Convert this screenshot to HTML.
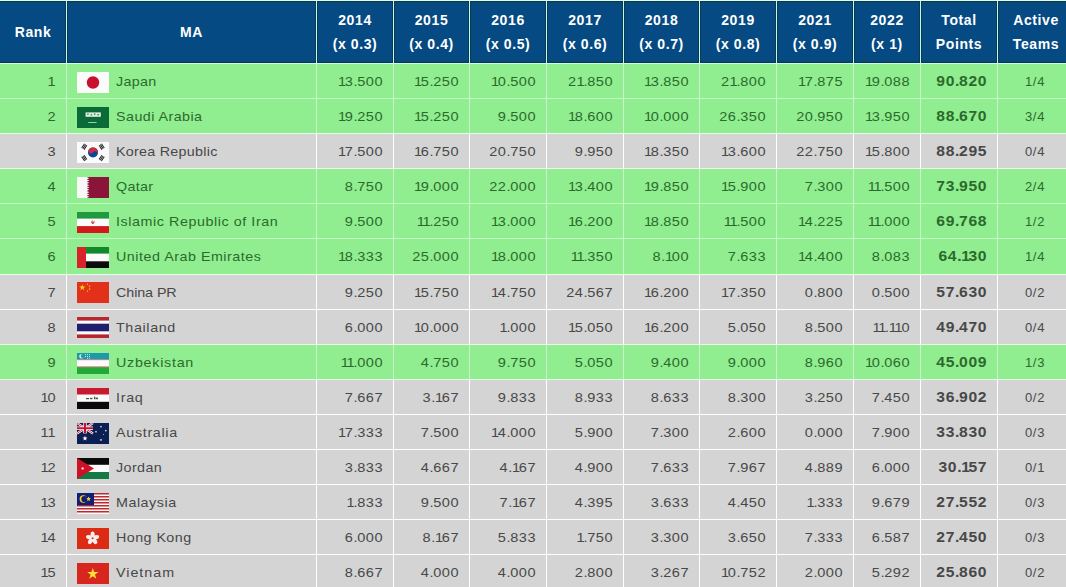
<!DOCTYPE html><html><head><meta charset="utf-8"><style>
*{margin:0;padding:0;box-sizing:border-box}
html,body{width:1066px;height:587px;overflow:hidden;background:#fff}
body{position:relative;font-family:"Liberation Sans",sans-serif;}
div{position:absolute}
.hc{background:#054a82;box-shadow:inset 0 1px 0 #0a3a4c, inset 0 -1px 0 #093947, inset 0 2px 0 #0c4866, inset 0 -2px 0 #0b4868}
.t{white-space:nowrap;font-size:13px;line-height:14px;letter-spacing:0.7px}
.h{color:#fff;font-weight:bold;font-size:14px;text-align:center;white-space:nowrap;letter-spacing:0.6px}
.r{text-align:right}
.n{letter-spacing:0.45px;transform:scaleX(1.12);transform-origin:100% 50%}
.nm{transform:scaleX(1.1);transform-origin:0 50%}
.n i{font-style:normal}
.n i.o{letter-spacing:-1.15px}
.n i.p{letter-spacing:-0.25px}
.b{font-weight:bold;font-size:14.5px;letter-spacing:0.55px;transform:translateY(-1px) scaleX(1.08)}
.b i.o{letter-spacing:-1.5px}
.b i.p{letter-spacing:-0.2px}
.fl{width:32px;height:21px}
.fl svg{display:block}
</style></head><body>
<div style="left:0;top:0;width:1066px;height:1px;background:#d8fffb"></div>
<div class="hc" style="left:0px;top:1px;width:66px;height:62px;border-right:1px solid #0a3c50"></div>
<div class="hc" style="left:67px;top:1px;width:249px;height:62px;border-left:1px solid #0a3c50;border-right:1px solid #0a3c50"></div>
<div class="hc" style="left:317px;top:1px;width:76px;height:62px;border-left:1px solid #0a3c50;border-right:1px solid #0a3c50"></div>
<div class="hc" style="left:394px;top:1px;width:75px;height:62px;border-left:1px solid #0a3c50;border-right:1px solid #0a3c50"></div>
<div class="hc" style="left:470px;top:1px;width:76px;height:62px;border-left:1px solid #0a3c50;border-right:1px solid #0a3c50"></div>
<div class="hc" style="left:547px;top:1px;width:76px;height:62px;border-left:1px solid #0a3c50;border-right:1px solid #0a3c50"></div>
<div class="hc" style="left:624px;top:1px;width:75px;height:62px;border-left:1px solid #0a3c50;border-right:1px solid #0a3c50"></div>
<div class="hc" style="left:700px;top:1px;width:76px;height:62px;border-left:1px solid #0a3c50;border-right:1px solid #0a3c50"></div>
<div class="hc" style="left:777px;top:1px;width:76px;height:62px;border-left:1px solid #0a3c50;border-right:1px solid #0a3c50"></div>
<div class="hc" style="left:854px;top:1px;width:66px;height:62px;border-left:1px solid #0a3c50;border-right:1px solid #0a3c50"></div>
<div class="hc" style="left:921px;top:1px;width:76px;height:62px;border-left:1px solid #0a3c50;border-right:1px solid #0a3c50"></div>
<div class="hc" style="left:998px;top:1px;width:76px;height:62px;border-left:1px solid #0a3c50;border-right:1px solid #0a3c50"></div>
<div style="left:66px;top:1px;width:1px;height:62px;background:#c4f6f2"></div>
<div style="left:316px;top:1px;width:1px;height:62px;background:#c4f6f2"></div>
<div style="left:393px;top:1px;width:1px;height:62px;background:#c4f6f2"></div>
<div style="left:469px;top:1px;width:1px;height:62px;background:#c4f6f2"></div>
<div style="left:546px;top:1px;width:1px;height:62px;background:#c4f6f2"></div>
<div style="left:623px;top:1px;width:1px;height:62px;background:#c4f6f2"></div>
<div style="left:699px;top:1px;width:1px;height:62px;background:#c4f6f2"></div>
<div style="left:776px;top:1px;width:1px;height:62px;background:#c4f6f2"></div>
<div style="left:853px;top:1px;width:1px;height:62px;background:#c4f6f2"></div>
<div style="left:920px;top:1px;width:1px;height:62px;background:#c4f6f2"></div>
<div style="left:997px;top:1px;width:1px;height:62px;background:#c4f6f2"></div>
<div style="left:0;top:63px;width:1066px;height:1px;background:#c6fff2"></div>
<div style="left:0;top:64px;width:1066px;height:34px;background:#90ee90"></div>
<div style="left:65px;top:64px;width:3px;height:34px;background:#9ae69a"></div>
<div style="left:66px;top:64px;width:1px;height:34px;background:#bcfcbc"></div>
<div style="left:315px;top:64px;width:3px;height:34px;background:#9ae69a"></div>
<div style="left:316px;top:64px;width:1px;height:34px;background:#bcfcbc"></div>
<div style="left:392px;top:64px;width:3px;height:34px;background:#9ae69a"></div>
<div style="left:393px;top:64px;width:1px;height:34px;background:#bcfcbc"></div>
<div style="left:468px;top:64px;width:3px;height:34px;background:#9ae69a"></div>
<div style="left:469px;top:64px;width:1px;height:34px;background:#bcfcbc"></div>
<div style="left:545px;top:64px;width:3px;height:34px;background:#9ae69a"></div>
<div style="left:546px;top:64px;width:1px;height:34px;background:#bcfcbc"></div>
<div style="left:622px;top:64px;width:3px;height:34px;background:#9ae69a"></div>
<div style="left:623px;top:64px;width:1px;height:34px;background:#bcfcbc"></div>
<div style="left:698px;top:64px;width:3px;height:34px;background:#9ae69a"></div>
<div style="left:699px;top:64px;width:1px;height:34px;background:#bcfcbc"></div>
<div style="left:775px;top:64px;width:3px;height:34px;background:#9ae69a"></div>
<div style="left:776px;top:64px;width:1px;height:34px;background:#bcfcbc"></div>
<div style="left:852px;top:64px;width:3px;height:34px;background:#9ae69a"></div>
<div style="left:853px;top:64px;width:1px;height:34px;background:#bcfcbc"></div>
<div style="left:919px;top:64px;width:3px;height:34px;background:#9ae69a"></div>
<div style="left:920px;top:64px;width:1px;height:34px;background:#bcfcbc"></div>
<div style="left:996px;top:64px;width:3px;height:34px;background:#9ae69a"></div>
<div style="left:997px;top:64px;width:1px;height:34px;background:#bcfcbc"></div>
<div style="left:0;top:99px;width:1066px;height:34px;background:#90ee90"></div>
<div style="left:65px;top:99px;width:3px;height:34px;background:#9ae69a"></div>
<div style="left:66px;top:99px;width:1px;height:34px;background:#bcfcbc"></div>
<div style="left:315px;top:99px;width:3px;height:34px;background:#9ae69a"></div>
<div style="left:316px;top:99px;width:1px;height:34px;background:#bcfcbc"></div>
<div style="left:392px;top:99px;width:3px;height:34px;background:#9ae69a"></div>
<div style="left:393px;top:99px;width:1px;height:34px;background:#bcfcbc"></div>
<div style="left:468px;top:99px;width:3px;height:34px;background:#9ae69a"></div>
<div style="left:469px;top:99px;width:1px;height:34px;background:#bcfcbc"></div>
<div style="left:545px;top:99px;width:3px;height:34px;background:#9ae69a"></div>
<div style="left:546px;top:99px;width:1px;height:34px;background:#bcfcbc"></div>
<div style="left:622px;top:99px;width:3px;height:34px;background:#9ae69a"></div>
<div style="left:623px;top:99px;width:1px;height:34px;background:#bcfcbc"></div>
<div style="left:698px;top:99px;width:3px;height:34px;background:#9ae69a"></div>
<div style="left:699px;top:99px;width:1px;height:34px;background:#bcfcbc"></div>
<div style="left:775px;top:99px;width:3px;height:34px;background:#9ae69a"></div>
<div style="left:776px;top:99px;width:1px;height:34px;background:#bcfcbc"></div>
<div style="left:852px;top:99px;width:3px;height:34px;background:#9ae69a"></div>
<div style="left:853px;top:99px;width:1px;height:34px;background:#bcfcbc"></div>
<div style="left:919px;top:99px;width:3px;height:34px;background:#9ae69a"></div>
<div style="left:920px;top:99px;width:1px;height:34px;background:#bcfcbc"></div>
<div style="left:996px;top:99px;width:3px;height:34px;background:#9ae69a"></div>
<div style="left:997px;top:99px;width:1px;height:34px;background:#bcfcbc"></div>
<div style="left:0;top:134px;width:1066px;height:34px;background:#d4d4d4"></div>
<div style="left:66px;top:134px;width:1px;height:34px;background:#ffffff"></div>
<div style="left:316px;top:134px;width:1px;height:34px;background:#ffffff"></div>
<div style="left:393px;top:134px;width:1px;height:34px;background:#ffffff"></div>
<div style="left:469px;top:134px;width:1px;height:34px;background:#ffffff"></div>
<div style="left:546px;top:134px;width:1px;height:34px;background:#ffffff"></div>
<div style="left:623px;top:134px;width:1px;height:34px;background:#ffffff"></div>
<div style="left:699px;top:134px;width:1px;height:34px;background:#ffffff"></div>
<div style="left:776px;top:134px;width:1px;height:34px;background:#ffffff"></div>
<div style="left:853px;top:134px;width:1px;height:34px;background:#ffffff"></div>
<div style="left:920px;top:134px;width:1px;height:34px;background:#ffffff"></div>
<div style="left:997px;top:134px;width:1px;height:34px;background:#ffffff"></div>
<div style="left:0;top:169px;width:1066px;height:34px;background:#90ee90"></div>
<div style="left:65px;top:169px;width:3px;height:34px;background:#9ae69a"></div>
<div style="left:66px;top:169px;width:1px;height:34px;background:#bcfcbc"></div>
<div style="left:315px;top:169px;width:3px;height:34px;background:#9ae69a"></div>
<div style="left:316px;top:169px;width:1px;height:34px;background:#bcfcbc"></div>
<div style="left:392px;top:169px;width:3px;height:34px;background:#9ae69a"></div>
<div style="left:393px;top:169px;width:1px;height:34px;background:#bcfcbc"></div>
<div style="left:468px;top:169px;width:3px;height:34px;background:#9ae69a"></div>
<div style="left:469px;top:169px;width:1px;height:34px;background:#bcfcbc"></div>
<div style="left:545px;top:169px;width:3px;height:34px;background:#9ae69a"></div>
<div style="left:546px;top:169px;width:1px;height:34px;background:#bcfcbc"></div>
<div style="left:622px;top:169px;width:3px;height:34px;background:#9ae69a"></div>
<div style="left:623px;top:169px;width:1px;height:34px;background:#bcfcbc"></div>
<div style="left:698px;top:169px;width:3px;height:34px;background:#9ae69a"></div>
<div style="left:699px;top:169px;width:1px;height:34px;background:#bcfcbc"></div>
<div style="left:775px;top:169px;width:3px;height:34px;background:#9ae69a"></div>
<div style="left:776px;top:169px;width:1px;height:34px;background:#bcfcbc"></div>
<div style="left:852px;top:169px;width:3px;height:34px;background:#9ae69a"></div>
<div style="left:853px;top:169px;width:1px;height:34px;background:#bcfcbc"></div>
<div style="left:919px;top:169px;width:3px;height:34px;background:#9ae69a"></div>
<div style="left:920px;top:169px;width:1px;height:34px;background:#bcfcbc"></div>
<div style="left:996px;top:169px;width:3px;height:34px;background:#9ae69a"></div>
<div style="left:997px;top:169px;width:1px;height:34px;background:#bcfcbc"></div>
<div style="left:0;top:204px;width:1066px;height:34px;background:#90ee90"></div>
<div style="left:65px;top:204px;width:3px;height:34px;background:#9ae69a"></div>
<div style="left:66px;top:204px;width:1px;height:34px;background:#bcfcbc"></div>
<div style="left:315px;top:204px;width:3px;height:34px;background:#9ae69a"></div>
<div style="left:316px;top:204px;width:1px;height:34px;background:#bcfcbc"></div>
<div style="left:392px;top:204px;width:3px;height:34px;background:#9ae69a"></div>
<div style="left:393px;top:204px;width:1px;height:34px;background:#bcfcbc"></div>
<div style="left:468px;top:204px;width:3px;height:34px;background:#9ae69a"></div>
<div style="left:469px;top:204px;width:1px;height:34px;background:#bcfcbc"></div>
<div style="left:545px;top:204px;width:3px;height:34px;background:#9ae69a"></div>
<div style="left:546px;top:204px;width:1px;height:34px;background:#bcfcbc"></div>
<div style="left:622px;top:204px;width:3px;height:34px;background:#9ae69a"></div>
<div style="left:623px;top:204px;width:1px;height:34px;background:#bcfcbc"></div>
<div style="left:698px;top:204px;width:3px;height:34px;background:#9ae69a"></div>
<div style="left:699px;top:204px;width:1px;height:34px;background:#bcfcbc"></div>
<div style="left:775px;top:204px;width:3px;height:34px;background:#9ae69a"></div>
<div style="left:776px;top:204px;width:1px;height:34px;background:#bcfcbc"></div>
<div style="left:852px;top:204px;width:3px;height:34px;background:#9ae69a"></div>
<div style="left:853px;top:204px;width:1px;height:34px;background:#bcfcbc"></div>
<div style="left:919px;top:204px;width:3px;height:34px;background:#9ae69a"></div>
<div style="left:920px;top:204px;width:1px;height:34px;background:#bcfcbc"></div>
<div style="left:996px;top:204px;width:3px;height:34px;background:#9ae69a"></div>
<div style="left:997px;top:204px;width:1px;height:34px;background:#bcfcbc"></div>
<div style="left:0;top:239px;width:1066px;height:35px;background:#90ee90"></div>
<div style="left:65px;top:239px;width:3px;height:35px;background:#9ae69a"></div>
<div style="left:66px;top:239px;width:1px;height:35px;background:#bcfcbc"></div>
<div style="left:315px;top:239px;width:3px;height:35px;background:#9ae69a"></div>
<div style="left:316px;top:239px;width:1px;height:35px;background:#bcfcbc"></div>
<div style="left:392px;top:239px;width:3px;height:35px;background:#9ae69a"></div>
<div style="left:393px;top:239px;width:1px;height:35px;background:#bcfcbc"></div>
<div style="left:468px;top:239px;width:3px;height:35px;background:#9ae69a"></div>
<div style="left:469px;top:239px;width:1px;height:35px;background:#bcfcbc"></div>
<div style="left:545px;top:239px;width:3px;height:35px;background:#9ae69a"></div>
<div style="left:546px;top:239px;width:1px;height:35px;background:#bcfcbc"></div>
<div style="left:622px;top:239px;width:3px;height:35px;background:#9ae69a"></div>
<div style="left:623px;top:239px;width:1px;height:35px;background:#bcfcbc"></div>
<div style="left:698px;top:239px;width:3px;height:35px;background:#9ae69a"></div>
<div style="left:699px;top:239px;width:1px;height:35px;background:#bcfcbc"></div>
<div style="left:775px;top:239px;width:3px;height:35px;background:#9ae69a"></div>
<div style="left:776px;top:239px;width:1px;height:35px;background:#bcfcbc"></div>
<div style="left:852px;top:239px;width:3px;height:35px;background:#9ae69a"></div>
<div style="left:853px;top:239px;width:1px;height:35px;background:#bcfcbc"></div>
<div style="left:919px;top:239px;width:3px;height:35px;background:#9ae69a"></div>
<div style="left:920px;top:239px;width:1px;height:35px;background:#bcfcbc"></div>
<div style="left:996px;top:239px;width:3px;height:35px;background:#9ae69a"></div>
<div style="left:997px;top:239px;width:1px;height:35px;background:#bcfcbc"></div>
<div style="left:0;top:275px;width:1066px;height:34px;background:#d4d4d4"></div>
<div style="left:66px;top:275px;width:1px;height:34px;background:#ffffff"></div>
<div style="left:316px;top:275px;width:1px;height:34px;background:#ffffff"></div>
<div style="left:393px;top:275px;width:1px;height:34px;background:#ffffff"></div>
<div style="left:469px;top:275px;width:1px;height:34px;background:#ffffff"></div>
<div style="left:546px;top:275px;width:1px;height:34px;background:#ffffff"></div>
<div style="left:623px;top:275px;width:1px;height:34px;background:#ffffff"></div>
<div style="left:699px;top:275px;width:1px;height:34px;background:#ffffff"></div>
<div style="left:776px;top:275px;width:1px;height:34px;background:#ffffff"></div>
<div style="left:853px;top:275px;width:1px;height:34px;background:#ffffff"></div>
<div style="left:920px;top:275px;width:1px;height:34px;background:#ffffff"></div>
<div style="left:997px;top:275px;width:1px;height:34px;background:#ffffff"></div>
<div style="left:0;top:310px;width:1066px;height:34px;background:#d4d4d4"></div>
<div style="left:66px;top:310px;width:1px;height:34px;background:#ffffff"></div>
<div style="left:316px;top:310px;width:1px;height:34px;background:#ffffff"></div>
<div style="left:393px;top:310px;width:1px;height:34px;background:#ffffff"></div>
<div style="left:469px;top:310px;width:1px;height:34px;background:#ffffff"></div>
<div style="left:546px;top:310px;width:1px;height:34px;background:#ffffff"></div>
<div style="left:623px;top:310px;width:1px;height:34px;background:#ffffff"></div>
<div style="left:699px;top:310px;width:1px;height:34px;background:#ffffff"></div>
<div style="left:776px;top:310px;width:1px;height:34px;background:#ffffff"></div>
<div style="left:853px;top:310px;width:1px;height:34px;background:#ffffff"></div>
<div style="left:920px;top:310px;width:1px;height:34px;background:#ffffff"></div>
<div style="left:997px;top:310px;width:1px;height:34px;background:#ffffff"></div>
<div style="left:0;top:345px;width:1066px;height:34px;background:#90ee90"></div>
<div style="left:65px;top:345px;width:3px;height:34px;background:#9ae69a"></div>
<div style="left:66px;top:345px;width:1px;height:34px;background:#bcfcbc"></div>
<div style="left:315px;top:345px;width:3px;height:34px;background:#9ae69a"></div>
<div style="left:316px;top:345px;width:1px;height:34px;background:#bcfcbc"></div>
<div style="left:392px;top:345px;width:3px;height:34px;background:#9ae69a"></div>
<div style="left:393px;top:345px;width:1px;height:34px;background:#bcfcbc"></div>
<div style="left:468px;top:345px;width:3px;height:34px;background:#9ae69a"></div>
<div style="left:469px;top:345px;width:1px;height:34px;background:#bcfcbc"></div>
<div style="left:545px;top:345px;width:3px;height:34px;background:#9ae69a"></div>
<div style="left:546px;top:345px;width:1px;height:34px;background:#bcfcbc"></div>
<div style="left:622px;top:345px;width:3px;height:34px;background:#9ae69a"></div>
<div style="left:623px;top:345px;width:1px;height:34px;background:#bcfcbc"></div>
<div style="left:698px;top:345px;width:3px;height:34px;background:#9ae69a"></div>
<div style="left:699px;top:345px;width:1px;height:34px;background:#bcfcbc"></div>
<div style="left:775px;top:345px;width:3px;height:34px;background:#9ae69a"></div>
<div style="left:776px;top:345px;width:1px;height:34px;background:#bcfcbc"></div>
<div style="left:852px;top:345px;width:3px;height:34px;background:#9ae69a"></div>
<div style="left:853px;top:345px;width:1px;height:34px;background:#bcfcbc"></div>
<div style="left:919px;top:345px;width:3px;height:34px;background:#9ae69a"></div>
<div style="left:920px;top:345px;width:1px;height:34px;background:#bcfcbc"></div>
<div style="left:996px;top:345px;width:3px;height:34px;background:#9ae69a"></div>
<div style="left:997px;top:345px;width:1px;height:34px;background:#bcfcbc"></div>
<div style="left:0;top:380px;width:1066px;height:34px;background:#d4d4d4"></div>
<div style="left:66px;top:380px;width:1px;height:34px;background:#ffffff"></div>
<div style="left:316px;top:380px;width:1px;height:34px;background:#ffffff"></div>
<div style="left:393px;top:380px;width:1px;height:34px;background:#ffffff"></div>
<div style="left:469px;top:380px;width:1px;height:34px;background:#ffffff"></div>
<div style="left:546px;top:380px;width:1px;height:34px;background:#ffffff"></div>
<div style="left:623px;top:380px;width:1px;height:34px;background:#ffffff"></div>
<div style="left:699px;top:380px;width:1px;height:34px;background:#ffffff"></div>
<div style="left:776px;top:380px;width:1px;height:34px;background:#ffffff"></div>
<div style="left:853px;top:380px;width:1px;height:34px;background:#ffffff"></div>
<div style="left:920px;top:380px;width:1px;height:34px;background:#ffffff"></div>
<div style="left:997px;top:380px;width:1px;height:34px;background:#ffffff"></div>
<div style="left:0;top:415px;width:1066px;height:34px;background:#d4d4d4"></div>
<div style="left:66px;top:415px;width:1px;height:34px;background:#ffffff"></div>
<div style="left:316px;top:415px;width:1px;height:34px;background:#ffffff"></div>
<div style="left:393px;top:415px;width:1px;height:34px;background:#ffffff"></div>
<div style="left:469px;top:415px;width:1px;height:34px;background:#ffffff"></div>
<div style="left:546px;top:415px;width:1px;height:34px;background:#ffffff"></div>
<div style="left:623px;top:415px;width:1px;height:34px;background:#ffffff"></div>
<div style="left:699px;top:415px;width:1px;height:34px;background:#ffffff"></div>
<div style="left:776px;top:415px;width:1px;height:34px;background:#ffffff"></div>
<div style="left:853px;top:415px;width:1px;height:34px;background:#ffffff"></div>
<div style="left:920px;top:415px;width:1px;height:34px;background:#ffffff"></div>
<div style="left:997px;top:415px;width:1px;height:34px;background:#ffffff"></div>
<div style="left:0;top:450px;width:1066px;height:34px;background:#d4d4d4"></div>
<div style="left:66px;top:450px;width:1px;height:34px;background:#ffffff"></div>
<div style="left:316px;top:450px;width:1px;height:34px;background:#ffffff"></div>
<div style="left:393px;top:450px;width:1px;height:34px;background:#ffffff"></div>
<div style="left:469px;top:450px;width:1px;height:34px;background:#ffffff"></div>
<div style="left:546px;top:450px;width:1px;height:34px;background:#ffffff"></div>
<div style="left:623px;top:450px;width:1px;height:34px;background:#ffffff"></div>
<div style="left:699px;top:450px;width:1px;height:34px;background:#ffffff"></div>
<div style="left:776px;top:450px;width:1px;height:34px;background:#ffffff"></div>
<div style="left:853px;top:450px;width:1px;height:34px;background:#ffffff"></div>
<div style="left:920px;top:450px;width:1px;height:34px;background:#ffffff"></div>
<div style="left:997px;top:450px;width:1px;height:34px;background:#ffffff"></div>
<div style="left:0;top:485px;width:1066px;height:34px;background:#d4d4d4"></div>
<div style="left:66px;top:485px;width:1px;height:34px;background:#ffffff"></div>
<div style="left:316px;top:485px;width:1px;height:34px;background:#ffffff"></div>
<div style="left:393px;top:485px;width:1px;height:34px;background:#ffffff"></div>
<div style="left:469px;top:485px;width:1px;height:34px;background:#ffffff"></div>
<div style="left:546px;top:485px;width:1px;height:34px;background:#ffffff"></div>
<div style="left:623px;top:485px;width:1px;height:34px;background:#ffffff"></div>
<div style="left:699px;top:485px;width:1px;height:34px;background:#ffffff"></div>
<div style="left:776px;top:485px;width:1px;height:34px;background:#ffffff"></div>
<div style="left:853px;top:485px;width:1px;height:34px;background:#ffffff"></div>
<div style="left:920px;top:485px;width:1px;height:34px;background:#ffffff"></div>
<div style="left:997px;top:485px;width:1px;height:34px;background:#ffffff"></div>
<div style="left:0;top:520px;width:1066px;height:34px;background:#d4d4d4"></div>
<div style="left:66px;top:520px;width:1px;height:34px;background:#ffffff"></div>
<div style="left:316px;top:520px;width:1px;height:34px;background:#ffffff"></div>
<div style="left:393px;top:520px;width:1px;height:34px;background:#ffffff"></div>
<div style="left:469px;top:520px;width:1px;height:34px;background:#ffffff"></div>
<div style="left:546px;top:520px;width:1px;height:34px;background:#ffffff"></div>
<div style="left:623px;top:520px;width:1px;height:34px;background:#ffffff"></div>
<div style="left:699px;top:520px;width:1px;height:34px;background:#ffffff"></div>
<div style="left:776px;top:520px;width:1px;height:34px;background:#ffffff"></div>
<div style="left:853px;top:520px;width:1px;height:34px;background:#ffffff"></div>
<div style="left:920px;top:520px;width:1px;height:34px;background:#ffffff"></div>
<div style="left:997px;top:520px;width:1px;height:34px;background:#ffffff"></div>
<div style="left:0;top:555px;width:1066px;height:32px;background:#d4d4d4"></div>
<div style="left:66px;top:555px;width:1px;height:32px;background:#ffffff"></div>
<div style="left:316px;top:555px;width:1px;height:32px;background:#ffffff"></div>
<div style="left:393px;top:555px;width:1px;height:32px;background:#ffffff"></div>
<div style="left:469px;top:555px;width:1px;height:32px;background:#ffffff"></div>
<div style="left:546px;top:555px;width:1px;height:32px;background:#ffffff"></div>
<div style="left:623px;top:555px;width:1px;height:32px;background:#ffffff"></div>
<div style="left:699px;top:555px;width:1px;height:32px;background:#ffffff"></div>
<div style="left:776px;top:555px;width:1px;height:32px;background:#ffffff"></div>
<div style="left:853px;top:555px;width:1px;height:32px;background:#ffffff"></div>
<div style="left:920px;top:555px;width:1px;height:32px;background:#ffffff"></div>
<div style="left:997px;top:555px;width:1px;height:32px;background:#ffffff"></div>
<div style="left:0;top:98px;width:1066px;height:1px;background:#c0fcc0"></div>
<div style="left:0;top:133px;width:1066px;height:1px;background:#e6ffe6"></div>
<div style="left:0;top:168px;width:1066px;height:1px;background:#e6ffe6"></div>
<div style="left:0;top:203px;width:1066px;height:1px;background:#c0fcc0"></div>
<div style="left:0;top:238px;width:1066px;height:1px;background:#c0fcc0"></div>
<div style="left:0;top:274px;width:1066px;height:1px;background:#e6ffe6"></div>
<div style="left:0;top:309px;width:1066px;height:1px;background:#ffffff"></div>
<div style="left:0;top:344px;width:1066px;height:1px;background:#e6ffe6"></div>
<div style="left:0;top:379px;width:1066px;height:1px;background:#e6ffe6"></div>
<div style="left:0;top:414px;width:1066px;height:1px;background:#ffffff"></div>
<div style="left:0;top:449px;width:1066px;height:1px;background:#ffffff"></div>
<div style="left:0;top:484px;width:1066px;height:1px;background:#ffffff"></div>
<div style="left:0;top:519px;width:1066px;height:1px;background:#ffffff"></div>
<div style="left:0;top:554px;width:1066px;height:1px;background:#ffffff"></div>
<div class="h" style="left:0px;top:24px;width:66px;line-height:16px">Rank</div>
<div class="h" style="left:67px;top:24px;width:249px;line-height:16px">MA</div>
<div class="h" style="left:317px;top:8px;width:76px;line-height:24px">2014<br>(x 0.3)</div>
<div class="h" style="left:394px;top:8px;width:75px;line-height:24px">2015<br>(x 0.4)</div>
<div class="h" style="left:470px;top:8px;width:76px;line-height:24px">2016<br>(x 0.5)</div>
<div class="h" style="left:547px;top:8px;width:76px;line-height:24px">2017<br>(x 0.6)</div>
<div class="h" style="left:624px;top:8px;width:75px;line-height:24px">2018<br>(x 0.7)</div>
<div class="h" style="left:700px;top:8px;width:76px;line-height:24px">2019<br>(x 0.8)</div>
<div class="h" style="left:777px;top:8px;width:76px;line-height:24px">2021<br>(x 0.9)</div>
<div class="h" style="left:854px;top:8px;width:66px;line-height:24px">2022<br>(x 1)</div>
<div class="h" style="left:921px;top:8px;width:76px;line-height:24px">Total<br>Points</div>
<div class="h" style="left:998px;top:8px;width:76px;line-height:24px">Active<br>Teams</div>
<div class="t r n" style="left:0;width:56px;top:75px;color:#2b6a2b">1</div>
<div class="fl" style="left:77px;top:72px"><svg width="32" height="21" viewBox="0 0 32 21"><rect width="32" height="21" fill="#fbfbfb"/><circle cx="16" cy="10.5" r="6.2" fill="#c8102e"/></svg></div>
<div class="t nm" style="left:116px;top:75px;color:#2b6a2b;letter-spacing:0.291px">Japan</div>
<div class="t r n" style="left:313px;width:70px;top:75px;color:#2b6a2b"><i class=o>1</i>3<i class=p>.</i>500</div>
<div class="t r n" style="left:389px;width:70px;top:75px;color:#2b6a2b"><i class=o>1</i>5<i class=p>.</i>250</div>
<div class="t r n" style="left:466px;width:70px;top:75px;color:#2b6a2b"><i class=o>1</i>0<i class=p>.</i>500</div>
<div class="t r n" style="left:543px;width:70px;top:75px;color:#2b6a2b">2<i class=o>1</i><i class=p>.</i>850</div>
<div class="t r n" style="left:619px;width:70px;top:75px;color:#2b6a2b"><i class=o>1</i>3<i class=p>.</i>850</div>
<div class="t r n" style="left:696px;width:70px;top:75px;color:#2b6a2b">2<i class=o>1</i><i class=p>.</i>800</div>
<div class="t r n" style="left:773px;width:70px;top:75px;color:#2b6a2b"><i class=o>1</i>7<i class=p>.</i>875</div>
<div class="t r n" style="left:840px;width:70px;top:75px;color:#2b6a2b"><i class=o>1</i>9<i class=p>.</i>088</div>
<div class="t r n b" style="left:917px;width:70px;top:75px;color:#2b6a2b">90<i class=p>.</i>820</div>
<div class="t" style="left:998px;width:74px;text-align:center;top:75px;color:#2b6a2b">1/4</div>
<div class="t r n" style="left:0;width:56px;top:110px;color:#2b6a2b">2</div>
<div class="fl" style="left:77px;top:107px"><svg width="32" height="21" viewBox="0 0 32 21"><rect width="32" height="21" fill="#0b6b38"/><rect x="8.6" y="5.4" width="15.2" height="4.4" fill="#e2f0e4"/><g fill="#2f7f4c"><rect x="10.3" y="6.4" width="1.2" height="1.6"/><rect x="13.6" y="7.2" width="1.6" height="1.2"/><rect x="17.2" y="6.2" width="1.1" height="1.8"/><rect x="20.3" y="7" width="1.5" height="1.3"/></g><rect x="11.2" y="15.1" width="8.4" height="0.8" fill="#c4e2cc"/></svg></div>
<div class="t nm" style="left:116px;top:110px;color:#2b6a2b;letter-spacing:0.409px">Saudi Arabia</div>
<div class="t r n" style="left:313px;width:70px;top:110px;color:#2b6a2b"><i class=o>1</i>9<i class=p>.</i>250</div>
<div class="t r n" style="left:389px;width:70px;top:110px;color:#2b6a2b"><i class=o>1</i>5<i class=p>.</i>250</div>
<div class="t r n" style="left:466px;width:70px;top:110px;color:#2b6a2b">9<i class=p>.</i>500</div>
<div class="t r n" style="left:543px;width:70px;top:110px;color:#2b6a2b"><i class=o>1</i>8<i class=p>.</i>600</div>
<div class="t r n" style="left:619px;width:70px;top:110px;color:#2b6a2b"><i class=o>1</i>0<i class=p>.</i>000</div>
<div class="t r n" style="left:696px;width:70px;top:110px;color:#2b6a2b">26<i class=p>.</i>350</div>
<div class="t r n" style="left:773px;width:70px;top:110px;color:#2b6a2b">20<i class=p>.</i>950</div>
<div class="t r n" style="left:840px;width:70px;top:110px;color:#2b6a2b"><i class=o>1</i>3<i class=p>.</i>950</div>
<div class="t r n b" style="left:917px;width:70px;top:110px;color:#2b6a2b">88<i class=p>.</i>670</div>
<div class="t" style="left:998px;width:74px;text-align:center;top:110px;color:#2b6a2b">3/4</div>
<div class="t r n" style="left:0;width:56px;top:145px;color:#484848">3</div>
<div class="fl" style="left:77px;top:142px"><svg width="32" height="21" viewBox="0 0 32 21"><rect width="32" height="21" fill="#fbfbfb"/><circle cx="16" cy="10.4" r="5.0" fill="#0047a0"/><path d="M11.84 7.63 A5.0 5.0 0 0 1 20.16 13.17 A2.5 2.5 0 0 0 16 10.4 A2.5 2.5 0 0 1 11.84 7.63 Z" fill="#cd2e3a"/><g transform="translate(7.3 4.7) rotate(-56.3)" fill="#1a1a1a"><rect x="-2.6" y="-1.90" width="5.2" height="0.95"/><rect x="-2.6" y="-0.50" width="5.2" height="0.95"/><rect x="-2.6" y="0.90" width="5.2" height="0.95"/></g><g transform="translate(24.7 4.7) rotate(56.3)" fill="#1a1a1a"><rect x="-2.6" y="-1.90" width="5.2" height="0.95"/><rect x="-2.6" y="-0.50" width="5.2" height="0.95"/><rect x="-2.6" y="0.90" width="5.2" height="0.95"/></g><g transform="translate(7.3 16.1) rotate(56.3)" fill="#1a1a1a"><rect x="-2.6" y="-1.90" width="5.2" height="0.95"/><rect x="-2.6" y="-0.50" width="5.2" height="0.95"/><rect x="-2.6" y="0.90" width="5.2" height="0.95"/></g><g transform="translate(24.7 16.1) rotate(-56.3)" fill="#1a1a1a"><rect x="-2.6" y="-1.90" width="5.2" height="0.95"/><rect x="-2.6" y="-0.50" width="5.2" height="0.95"/><rect x="-2.6" y="0.90" width="5.2" height="0.95"/></g></svg></div>
<div class="t nm" style="left:116px;top:145px;color:#484848;letter-spacing:0.247px">Korea Republic</div>
<div class="t r n" style="left:313px;width:70px;top:145px;color:#484848"><i class=o>1</i>7<i class=p>.</i>500</div>
<div class="t r n" style="left:389px;width:70px;top:145px;color:#484848"><i class=o>1</i>6<i class=p>.</i>750</div>
<div class="t r n" style="left:466px;width:70px;top:145px;color:#484848">20<i class=p>.</i>750</div>
<div class="t r n" style="left:543px;width:70px;top:145px;color:#484848">9<i class=p>.</i>950</div>
<div class="t r n" style="left:619px;width:70px;top:145px;color:#484848"><i class=o>1</i>8<i class=p>.</i>350</div>
<div class="t r n" style="left:696px;width:70px;top:145px;color:#484848"><i class=o>1</i>3<i class=p>.</i>600</div>
<div class="t r n" style="left:773px;width:70px;top:145px;color:#484848">22<i class=p>.</i>750</div>
<div class="t r n" style="left:840px;width:70px;top:145px;color:#484848"><i class=o>1</i>5<i class=p>.</i>800</div>
<div class="t r n b" style="left:917px;width:70px;top:145px;color:#484848">88<i class=p>.</i>295</div>
<div class="t" style="left:998px;width:74px;text-align:center;top:145px;color:#484848">0/4</div>
<div class="t r n" style="left:0;width:56px;top:180px;color:#2b6a2b">4</div>
<div class="fl" style="left:77px;top:177px"><svg width="32" height="21" viewBox="0 0 32 21"><rect width="32" height="21" fill="#f8f8f8"/><polygon points="9.7,0 32,0 32,21 9.7,21.00 12.4,19.83 9.7,18.67 12.4,17.50 9.7,16.33 12.4,15.17 9.7,14.00 12.4,12.83 9.7,11.67 12.4,10.50 9.7,9.33 12.4,8.17 9.7,7.00 12.4,5.83 9.7,4.67 12.4,3.50 9.7,2.33 12.4,1.17" fill="#8a1538"/></svg></div>
<div class="t nm" style="left:116px;top:180px;color:#2b6a2b;letter-spacing:0.291px">Qatar</div>
<div class="t r n" style="left:313px;width:70px;top:180px;color:#2b6a2b">8<i class=p>.</i>750</div>
<div class="t r n" style="left:389px;width:70px;top:180px;color:#2b6a2b"><i class=o>1</i>9<i class=p>.</i>000</div>
<div class="t r n" style="left:466px;width:70px;top:180px;color:#2b6a2b">22<i class=p>.</i>000</div>
<div class="t r n" style="left:543px;width:70px;top:180px;color:#2b6a2b"><i class=o>1</i>3<i class=p>.</i>400</div>
<div class="t r n" style="left:619px;width:70px;top:180px;color:#2b6a2b"><i class=o>1</i>9<i class=p>.</i>850</div>
<div class="t r n" style="left:696px;width:70px;top:180px;color:#2b6a2b"><i class=o>1</i>5<i class=p>.</i>900</div>
<div class="t r n" style="left:773px;width:70px;top:180px;color:#2b6a2b">7<i class=p>.</i>300</div>
<div class="t r n" style="left:840px;width:70px;top:180px;color:#2b6a2b"><i class=o>1</i><i class=o>1</i><i class=p>.</i>500</div>
<div class="t r n b" style="left:917px;width:70px;top:180px;color:#2b6a2b">73<i class=p>.</i>950</div>
<div class="t" style="left:998px;width:74px;text-align:center;top:180px;color:#2b6a2b">2/4</div>
<div class="t r n" style="left:0;width:56px;top:215px;color:#2b6a2b">5</div>
<div class="fl" style="left:77px;top:212px"><svg width="32" height="21" viewBox="0 0 32 21"><rect width="32" height="21" fill="#fbfbfb"/><rect width="32" height="6.6" fill="#1f9a3e"/><rect y="14.1" width="32" height="6.9" fill="#d21a1a"/><path d="M14 8.6 Q13.6 10.8 15.8 12.2 Q18 10.8 17.6 8.6 Q16.8 10.2 15.8 10.4 Q14.8 10.2 14 8.6 Z" fill="#c44"/><rect x="15.5" y="8.2" width="0.7" height="3.2" fill="#c44"/></svg></div>
<div class="t nm" style="left:116px;top:215px;color:#2b6a2b;letter-spacing:0.517px">Islamic Republic of Iran</div>
<div class="t r n" style="left:313px;width:70px;top:215px;color:#2b6a2b">9<i class=p>.</i>500</div>
<div class="t r n" style="left:389px;width:70px;top:215px;color:#2b6a2b"><i class=o>1</i><i class=o>1</i><i class=p>.</i>250</div>
<div class="t r n" style="left:466px;width:70px;top:215px;color:#2b6a2b"><i class=o>1</i>3<i class=p>.</i>000</div>
<div class="t r n" style="left:543px;width:70px;top:215px;color:#2b6a2b"><i class=o>1</i>6<i class=p>.</i>200</div>
<div class="t r n" style="left:619px;width:70px;top:215px;color:#2b6a2b"><i class=o>1</i>8<i class=p>.</i>850</div>
<div class="t r n" style="left:696px;width:70px;top:215px;color:#2b6a2b"><i class=o>1</i><i class=o>1</i><i class=p>.</i>500</div>
<div class="t r n" style="left:773px;width:70px;top:215px;color:#2b6a2b"><i class=o>1</i>4<i class=p>.</i>225</div>
<div class="t r n" style="left:840px;width:70px;top:215px;color:#2b6a2b"><i class=o>1</i><i class=o>1</i><i class=p>.</i>000</div>
<div class="t r n b" style="left:917px;width:70px;top:215px;color:#2b6a2b">69<i class=p>.</i>768</div>
<div class="t" style="left:998px;width:74px;text-align:center;top:215px;color:#2b6a2b">1/2</div>
<div class="t r n" style="left:0;width:56px;top:250px;color:#2b6a2b">6</div>
<div class="fl" style="left:77px;top:247px"><svg width="32" height="21" viewBox="0 0 32 21"><rect width="32" height="21" fill="#fbfbfb"/><rect width="32" height="6.6" fill="#108a2a"/><rect y="14.3" width="32" height="6.7" fill="#0c0c0c"/><rect width="9" height="21" fill="#d8232a"/></svg></div>
<div class="t nm" style="left:116px;top:250px;color:#2b6a2b;letter-spacing:0.469px">United Arab Emirates</div>
<div class="t r n" style="left:313px;width:70px;top:250px;color:#2b6a2b"><i class=o>1</i>8<i class=p>.</i>333</div>
<div class="t r n" style="left:389px;width:70px;top:250px;color:#2b6a2b">25<i class=p>.</i>000</div>
<div class="t r n" style="left:466px;width:70px;top:250px;color:#2b6a2b"><i class=o>1</i>8<i class=p>.</i>000</div>
<div class="t r n" style="left:543px;width:70px;top:250px;color:#2b6a2b"><i class=o>1</i><i class=o>1</i><i class=p>.</i>350</div>
<div class="t r n" style="left:619px;width:70px;top:250px;color:#2b6a2b">8<i class=p>.</i><i class=o>1</i>00</div>
<div class="t r n" style="left:696px;width:70px;top:250px;color:#2b6a2b">7<i class=p>.</i>633</div>
<div class="t r n" style="left:773px;width:70px;top:250px;color:#2b6a2b"><i class=o>1</i>4<i class=p>.</i>400</div>
<div class="t r n" style="left:840px;width:70px;top:250px;color:#2b6a2b">8<i class=p>.</i>083</div>
<div class="t r n b" style="left:917px;width:70px;top:250px;color:#2b6a2b">64<i class=p>.</i><i class=o>1</i>30</div>
<div class="t" style="left:998px;width:74px;text-align:center;top:250px;color:#2b6a2b">1/4</div>
<div class="t r n" style="left:0;width:56px;top:286px;color:#484848">7</div>
<div class="fl" style="left:77px;top:282px"><svg width="32" height="21" viewBox="0 0 32 21"><rect width="32" height="21" fill="#e2301a"/><polygon points="5.30,2.20 6.04,4.48 8.44,4.48 6.50,5.89 7.24,8.17 5.30,6.76 3.36,8.17 4.10,5.89 2.16,4.48 4.56,4.48" fill="#ffd21a"/><polygon points="10.89,1.12 10.86,1.95 11.65,2.24 10.85,2.47 10.82,3.31 10.35,2.61 9.55,2.84 10.06,2.18 9.59,1.49 10.38,1.78" fill="#ffd21a"/><polygon points="13.41,3.49 13.03,4.23 13.62,4.82 12.80,4.69 12.42,5.44 12.29,4.61 11.46,4.48 12.21,4.10 12.08,3.28 12.67,3.87" fill="#ffd21a"/><polygon points="12.60,6.05 12.86,6.84 13.69,6.84 13.02,7.34 13.28,8.13 12.60,7.64 11.92,8.13 12.18,7.34 11.51,6.84 12.34,6.84" fill="#ffd21a"/><polygon points="10.89,8.12 10.86,8.95 11.65,9.24 10.85,9.47 10.82,10.31 10.35,9.61 9.55,9.84 10.06,9.18 9.59,8.49 10.38,8.78" fill="#ffd21a"/></svg></div>
<div class="t nm" style="left:116px;top:286px;color:#484848;letter-spacing:-0.069px">China PR</div>
<div class="t r n" style="left:313px;width:70px;top:286px;color:#484848">9<i class=p>.</i>250</div>
<div class="t r n" style="left:389px;width:70px;top:286px;color:#484848"><i class=o>1</i>5<i class=p>.</i>750</div>
<div class="t r n" style="left:466px;width:70px;top:286px;color:#484848"><i class=o>1</i>4<i class=p>.</i>750</div>
<div class="t r n" style="left:543px;width:70px;top:286px;color:#484848">24<i class=p>.</i>567</div>
<div class="t r n" style="left:619px;width:70px;top:286px;color:#484848"><i class=o>1</i>6<i class=p>.</i>200</div>
<div class="t r n" style="left:696px;width:70px;top:286px;color:#484848"><i class=o>1</i>7<i class=p>.</i>350</div>
<div class="t r n" style="left:773px;width:70px;top:286px;color:#484848">0<i class=p>.</i>800</div>
<div class="t r n" style="left:840px;width:70px;top:286px;color:#484848">0<i class=p>.</i>500</div>
<div class="t r n b" style="left:917px;width:70px;top:286px;color:#484848">57<i class=p>.</i>630</div>
<div class="t" style="left:998px;width:74px;text-align:center;top:286px;color:#484848">0/2</div>
<div class="t r n" style="left:0;width:56px;top:321px;color:#484848">8</div>
<div class="fl" style="left:77px;top:317px"><svg width="32" height="21" viewBox="0 0 32 21"><rect width="32" height="21" fill="#b8262e"/><rect y="3.6" width="32" height="13.8" fill="#fbfbfb"/><rect y="6.7" width="32" height="7.6" fill="#1f1f6e"/></svg></div>
<div class="t nm" style="left:116px;top:321px;color:#484848;letter-spacing:0.580px">Thailand</div>
<div class="t r n" style="left:313px;width:70px;top:321px;color:#484848">6<i class=p>.</i>000</div>
<div class="t r n" style="left:389px;width:70px;top:321px;color:#484848"><i class=o>1</i>0<i class=p>.</i>000</div>
<div class="t r n" style="left:466px;width:70px;top:321px;color:#484848"><i class=o>1</i><i class=p>.</i>000</div>
<div class="t r n" style="left:543px;width:70px;top:321px;color:#484848"><i class=o>1</i>5<i class=p>.</i>050</div>
<div class="t r n" style="left:619px;width:70px;top:321px;color:#484848"><i class=o>1</i>6<i class=p>.</i>200</div>
<div class="t r n" style="left:696px;width:70px;top:321px;color:#484848">5<i class=p>.</i>050</div>
<div class="t r n" style="left:773px;width:70px;top:321px;color:#484848">8<i class=p>.</i>500</div>
<div class="t r n" style="left:840px;width:70px;top:321px;color:#484848"><i class=o>1</i><i class=o>1</i><i class=p>.</i><i class=o>1</i><i class=o>1</i>0</div>
<div class="t r n b" style="left:917px;width:70px;top:321px;color:#484848">49<i class=p>.</i>470</div>
<div class="t" style="left:998px;width:74px;text-align:center;top:321px;color:#484848">0/4</div>
<div class="t r n" style="left:0;width:56px;top:356px;color:#2b6a2b">9</div>
<div class="fl" style="left:77px;top:353px"><svg width="32" height="21" viewBox="0 0 32 21"><rect width="32" height="21" fill="#fbfbfb"/><rect width="32" height="6.5" fill="#1b9aaa"/><rect y="14.1" width="32" height="6.9" fill="#25a83a"/><rect y="6.5" width="32" height="0.6" fill="#d04a4a"/><rect y="13.5" width="32" height="0.6" fill="#d04a4a"/><circle cx="4.6" cy="3.3" r="2.3" fill="#e8f8ff"/><circle cx="5.6" cy="3.1" r="2.0" fill="#1b9aaa"/><g fill="#e8f8ff"><rect x="8" y="1.2" width="0.9" height="0.9"/><rect x="10" y="1.2" width="0.9" height="0.9"/><rect x="12" y="1.2" width="0.9" height="0.9"/><rect x="8" y="3" width="0.9" height="0.9"/><rect x="10" y="3" width="0.9" height="0.9"/><rect x="12" y="3" width="0.9" height="0.9"/><rect x="10" y="4.8" width="0.9" height="0.9"/><rect x="12" y="4.8" width="0.9" height="0.9"/></g></svg></div>
<div class="t nm" style="left:116px;top:356px;color:#2b6a2b;letter-spacing:0.662px">Uzbekistan</div>
<div class="t r n" style="left:313px;width:70px;top:356px;color:#2b6a2b"><i class=o>1</i><i class=o>1</i><i class=p>.</i>000</div>
<div class="t r n" style="left:389px;width:70px;top:356px;color:#2b6a2b">4<i class=p>.</i>750</div>
<div class="t r n" style="left:466px;width:70px;top:356px;color:#2b6a2b">9<i class=p>.</i>750</div>
<div class="t r n" style="left:543px;width:70px;top:356px;color:#2b6a2b">5<i class=p>.</i>050</div>
<div class="t r n" style="left:619px;width:70px;top:356px;color:#2b6a2b">9<i class=p>.</i>400</div>
<div class="t r n" style="left:696px;width:70px;top:356px;color:#2b6a2b">9<i class=p>.</i>000</div>
<div class="t r n" style="left:773px;width:70px;top:356px;color:#2b6a2b">8<i class=p>.</i>960</div>
<div class="t r n" style="left:840px;width:70px;top:356px;color:#2b6a2b"><i class=o>1</i>0<i class=p>.</i>060</div>
<div class="t r n b" style="left:917px;width:70px;top:356px;color:#2b6a2b">45<i class=p>.</i>009</div>
<div class="t" style="left:998px;width:74px;text-align:center;top:356px;color:#2b6a2b">1/3</div>
<div class="t r n" style="left:0;width:56px;top:391px;color:#484848"><i class=o>1</i>0</div>
<div class="fl" style="left:77px;top:388px"><svg width="32" height="21" viewBox="0 0 32 21"><rect width="32" height="21" fill="#fbfbfb"/><rect width="32" height="6.5" fill="#c8192e"/><rect y="13.8" width="32" height="7.2" fill="#0a0a0a"/><g fill="#3d5a3d"><rect x="9" y="10" width="3" height="1.2"/><rect x="13" y="9.8" width="2.5" height="1.4"/><rect x="17" y="8.6" width="1.2" height="2.6"/><rect x="18.5" y="9.6" width="2.5" height="1.6"/></g></svg></div>
<div class="t nm" style="left:116px;top:391px;color:#484848;letter-spacing:0.632px">Iraq</div>
<div class="t r n" style="left:313px;width:70px;top:391px;color:#484848">7<i class=p>.</i>667</div>
<div class="t r n" style="left:389px;width:70px;top:391px;color:#484848">3<i class=p>.</i><i class=o>1</i>67</div>
<div class="t r n" style="left:466px;width:70px;top:391px;color:#484848">9<i class=p>.</i>833</div>
<div class="t r n" style="left:543px;width:70px;top:391px;color:#484848">8<i class=p>.</i>933</div>
<div class="t r n" style="left:619px;width:70px;top:391px;color:#484848">8<i class=p>.</i>633</div>
<div class="t r n" style="left:696px;width:70px;top:391px;color:#484848">8<i class=p>.</i>300</div>
<div class="t r n" style="left:773px;width:70px;top:391px;color:#484848">3<i class=p>.</i>250</div>
<div class="t r n" style="left:840px;width:70px;top:391px;color:#484848">7<i class=p>.</i>450</div>
<div class="t r n b" style="left:917px;width:70px;top:391px;color:#484848">36<i class=p>.</i>902</div>
<div class="t" style="left:998px;width:74px;text-align:center;top:391px;color:#484848">0/2</div>
<div class="t r n" style="left:0;width:56px;top:426px;color:#484848"><i class=o>1</i>1</div>
<div class="fl" style="left:77px;top:423px"><svg width="32" height="21" viewBox="0 0 32 21"><rect width="32" height="21" fill="#0c1f52"/><path d="M0 0 L16 10.5 M16 0 L0 10.5" stroke="#fff" stroke-width="2.1"/><path d="M0 0 L16 10.5 M16 0 L0 10.5" stroke="#c8102e" stroke-width="0.8"/><path d="M8 0 V10.5 M0 5.25 H16" stroke="#fff" stroke-width="3.4"/><path d="M8 0 V10.5 M0 5.25 H16" stroke="#c8102e" stroke-width="2"/><polygon points="8.00,12.80 8.69,14.45 10.47,14.60 9.11,15.76 9.53,17.50 8.00,16.57 6.47,17.50 6.89,15.76 5.53,14.60 7.31,14.45" fill="#fff"/><polygon points="24.00,2.40 24.32,3.16 25.14,3.23 24.51,3.77 24.71,4.57 24.00,4.14 23.29,4.57 23.49,3.77 22.86,3.23 23.68,3.16" fill="#fff"/><polygon points="19.00,7.50 19.32,8.26 20.14,8.33 19.51,8.87 19.71,9.67 19.00,9.24 18.29,9.67 18.49,8.87 17.86,8.33 18.68,8.26" fill="#fff"/><polygon points="28.80,6.40 29.12,7.16 29.94,7.23 29.31,7.77 29.51,8.57 28.80,8.14 28.09,8.57 28.29,7.77 27.66,7.23 28.48,7.16" fill="#fff"/><polygon points="26.50,10.70 26.69,11.15 27.17,11.18 26.80,11.50 26.91,11.97 26.50,11.71 26.09,11.97 26.20,11.50 25.83,11.18 26.31,11.15" fill="#fff"/><polygon points="24.00,15.70 24.34,16.53 25.24,16.60 24.56,17.18 24.76,18.05 24.00,17.59 23.24,18.05 23.44,17.18 22.76,16.60 23.66,16.53" fill="#fff"/></svg></div>
<div class="t nm" style="left:116px;top:426px;color:#484848;letter-spacing:0.632px">Australia</div>
<div class="t r n" style="left:313px;width:70px;top:426px;color:#484848"><i class=o>1</i>7<i class=p>.</i>333</div>
<div class="t r n" style="left:389px;width:70px;top:426px;color:#484848">7<i class=p>.</i>500</div>
<div class="t r n" style="left:466px;width:70px;top:426px;color:#484848"><i class=o>1</i>4<i class=p>.</i>000</div>
<div class="t r n" style="left:543px;width:70px;top:426px;color:#484848">5<i class=p>.</i>900</div>
<div class="t r n" style="left:619px;width:70px;top:426px;color:#484848">7<i class=p>.</i>300</div>
<div class="t r n" style="left:696px;width:70px;top:426px;color:#484848">2<i class=p>.</i>600</div>
<div class="t r n" style="left:773px;width:70px;top:426px;color:#484848">0<i class=p>.</i>000</div>
<div class="t r n" style="left:840px;width:70px;top:426px;color:#484848">7<i class=p>.</i>900</div>
<div class="t r n b" style="left:917px;width:70px;top:426px;color:#484848">33<i class=p>.</i>830</div>
<div class="t" style="left:998px;width:74px;text-align:center;top:426px;color:#484848">0/3</div>
<div class="t r n" style="left:0;width:56px;top:461px;color:#484848"><i class=o>1</i>2</div>
<div class="fl" style="left:77px;top:458px"><svg width="32" height="21" viewBox="0 0 32 21"><rect width="32" height="21" fill="#fbfbfb"/><rect width="32" height="6.8" fill="#0a0a0a"/><rect y="14" width="32" height="7" fill="#137a44"/><path d="M0 0 L17 10.5 L0 21 Z" fill="#ce1126"/><polygon points="5.60,8.80 6.07,9.75 7.12,9.91 6.36,10.65 6.54,11.69 5.60,11.20 4.66,11.69 4.84,10.65 4.08,9.91 5.13,9.75" fill="#fff"/></svg></div>
<div class="t nm" style="left:116px;top:461px;color:#484848;letter-spacing:0.377px">Jordan</div>
<div class="t r n" style="left:313px;width:70px;top:461px;color:#484848">3<i class=p>.</i>833</div>
<div class="t r n" style="left:389px;width:70px;top:461px;color:#484848">4<i class=p>.</i>667</div>
<div class="t r n" style="left:466px;width:70px;top:461px;color:#484848">4<i class=p>.</i><i class=o>1</i>67</div>
<div class="t r n" style="left:543px;width:70px;top:461px;color:#484848">4<i class=p>.</i>900</div>
<div class="t r n" style="left:619px;width:70px;top:461px;color:#484848">7<i class=p>.</i>633</div>
<div class="t r n" style="left:696px;width:70px;top:461px;color:#484848">7<i class=p>.</i>967</div>
<div class="t r n" style="left:773px;width:70px;top:461px;color:#484848">4<i class=p>.</i>889</div>
<div class="t r n" style="left:840px;width:70px;top:461px;color:#484848">6<i class=p>.</i>000</div>
<div class="t r n b" style="left:917px;width:70px;top:461px;color:#484848">30<i class=p>.</i><i class=o>1</i>57</div>
<div class="t" style="left:998px;width:74px;text-align:center;top:461px;color:#484848">0/1</div>
<div class="t r n" style="left:0;width:56px;top:496px;color:#484848"><i class=o>1</i>3</div>
<div class="fl" style="left:77px;top:493px"><svg width="32" height="21" viewBox="0 0 32 21"><rect width="32" height="21" fill="#fbfbfb"/><rect y="0.0" width="32" height="1.5" fill="#c0282d"/><rect y="3.0" width="32" height="1.5" fill="#c0282d"/><rect y="6.0" width="32" height="1.5" fill="#c0282d"/><rect y="9.0" width="32" height="1.5" fill="#c0282d"/><rect y="12.0" width="32" height="1.5" fill="#c0282d"/><rect y="15.0" width="32" height="1.5" fill="#c0282d"/><rect y="18.0" width="32" height="1.5" fill="#c0282d"/><rect width="17" height="12.2" fill="#0f1f78"/><circle cx="6.3" cy="6" r="3.7" fill="#f5d020"/><circle cx="7.4" cy="6" r="3.1" fill="#0f1f78"/><polygon points="11.60,3.60 12.31,5.03 13.88,5.26 12.74,6.37 13.01,7.94 11.60,7.20 10.19,7.94 10.46,6.37 9.32,5.26 10.89,5.03" fill="#f5d020"/></svg></div>
<div class="t nm" style="left:116px;top:496px;color:#484848;letter-spacing:0.476px">Malaysia</div>
<div class="t r n" style="left:313px;width:70px;top:496px;color:#484848"><i class=o>1</i><i class=p>.</i>833</div>
<div class="t r n" style="left:389px;width:70px;top:496px;color:#484848">9<i class=p>.</i>500</div>
<div class="t r n" style="left:466px;width:70px;top:496px;color:#484848">7<i class=p>.</i><i class=o>1</i>67</div>
<div class="t r n" style="left:543px;width:70px;top:496px;color:#484848">4<i class=p>.</i>395</div>
<div class="t r n" style="left:619px;width:70px;top:496px;color:#484848">3<i class=p>.</i>633</div>
<div class="t r n" style="left:696px;width:70px;top:496px;color:#484848">4<i class=p>.</i>450</div>
<div class="t r n" style="left:773px;width:70px;top:496px;color:#484848"><i class=o>1</i><i class=p>.</i>333</div>
<div class="t r n" style="left:840px;width:70px;top:496px;color:#484848">9<i class=p>.</i>679</div>
<div class="t r n b" style="left:917px;width:70px;top:496px;color:#484848">27<i class=p>.</i>552</div>
<div class="t" style="left:998px;width:74px;text-align:center;top:496px;color:#484848">0/3</div>
<div class="t r n" style="left:0;width:56px;top:531px;color:#484848"><i class=o>1</i>4</div>
<div class="fl" style="left:77px;top:528px"><svg width="32" height="21" viewBox="0 0 32 21"><rect width="32" height="21" fill="#dc2a14"/><g fill="#fbeeee"><ellipse cx="15.6" cy="6.9" rx="2.1" ry="3.4" transform="rotate(0 15.6 10.3)"/><ellipse cx="15.6" cy="6.9" rx="2.1" ry="3.4" transform="rotate(72 15.6 10.3)"/><ellipse cx="15.6" cy="6.9" rx="2.1" ry="3.4" transform="rotate(144 15.6 10.3)"/><ellipse cx="15.6" cy="6.9" rx="2.1" ry="3.4" transform="rotate(216 15.6 10.3)"/><ellipse cx="15.6" cy="6.9" rx="2.1" ry="3.4" transform="rotate(288 15.6 10.3)"/></g><circle cx="15.6" cy="10.3" r="1" fill="#dc2a14"/></svg></div>
<div class="t nm" style="left:116px;top:531px;color:#484848;letter-spacing:0.405px">Hong Kong</div>
<div class="t r n" style="left:313px;width:70px;top:531px;color:#484848">6<i class=p>.</i>000</div>
<div class="t r n" style="left:389px;width:70px;top:531px;color:#484848">8<i class=p>.</i><i class=o>1</i>67</div>
<div class="t r n" style="left:466px;width:70px;top:531px;color:#484848">5<i class=p>.</i>833</div>
<div class="t r n" style="left:543px;width:70px;top:531px;color:#484848"><i class=o>1</i><i class=p>.</i>750</div>
<div class="t r n" style="left:619px;width:70px;top:531px;color:#484848">3<i class=p>.</i>300</div>
<div class="t r n" style="left:696px;width:70px;top:531px;color:#484848">3<i class=p>.</i>650</div>
<div class="t r n" style="left:773px;width:70px;top:531px;color:#484848">7<i class=p>.</i>333</div>
<div class="t r n" style="left:840px;width:70px;top:531px;color:#484848">6<i class=p>.</i>587</div>
<div class="t r n b" style="left:917px;width:70px;top:531px;color:#484848">27<i class=p>.</i>450</div>
<div class="t" style="left:998px;width:74px;text-align:center;top:531px;color:#484848">0/3</div>
<div class="t r n" style="left:0;width:56px;top:566px;color:#484848"><i class=o>1</i>5</div>
<div class="fl" style="left:77px;top:563px"><svg width="32" height="21" viewBox="0 0 32 21"><rect width="32" height="21" fill="#d8251d"/><polygon points="15.80,4.90 17.15,9.05 21.51,9.05 17.98,11.61 19.33,15.75 15.80,13.19 12.27,15.75 13.62,11.61 10.09,9.05 14.45,9.05" fill="#ffdf3a"/></svg></div>
<div class="t nm" style="left:116px;top:566px;color:#484848;letter-spacing:0.889px">Vietnam</div>
<div class="t r n" style="left:313px;width:70px;top:566px;color:#484848">8<i class=p>.</i>667</div>
<div class="t r n" style="left:389px;width:70px;top:566px;color:#484848">4<i class=p>.</i>000</div>
<div class="t r n" style="left:466px;width:70px;top:566px;color:#484848">4<i class=p>.</i>000</div>
<div class="t r n" style="left:543px;width:70px;top:566px;color:#484848">2<i class=p>.</i>800</div>
<div class="t r n" style="left:619px;width:70px;top:566px;color:#484848">3<i class=p>.</i>267</div>
<div class="t r n" style="left:696px;width:70px;top:566px;color:#484848"><i class=o>1</i>0<i class=p>.</i>752</div>
<div class="t r n" style="left:773px;width:70px;top:566px;color:#484848">2<i class=p>.</i>000</div>
<div class="t r n" style="left:840px;width:70px;top:566px;color:#484848">5<i class=p>.</i>292</div>
<div class="t r n b" style="left:917px;width:70px;top:566px;color:#484848">25<i class=p>.</i>860</div>
<div class="t" style="left:998px;width:74px;text-align:center;top:566px;color:#484848">0/2</div>
</body></html>
